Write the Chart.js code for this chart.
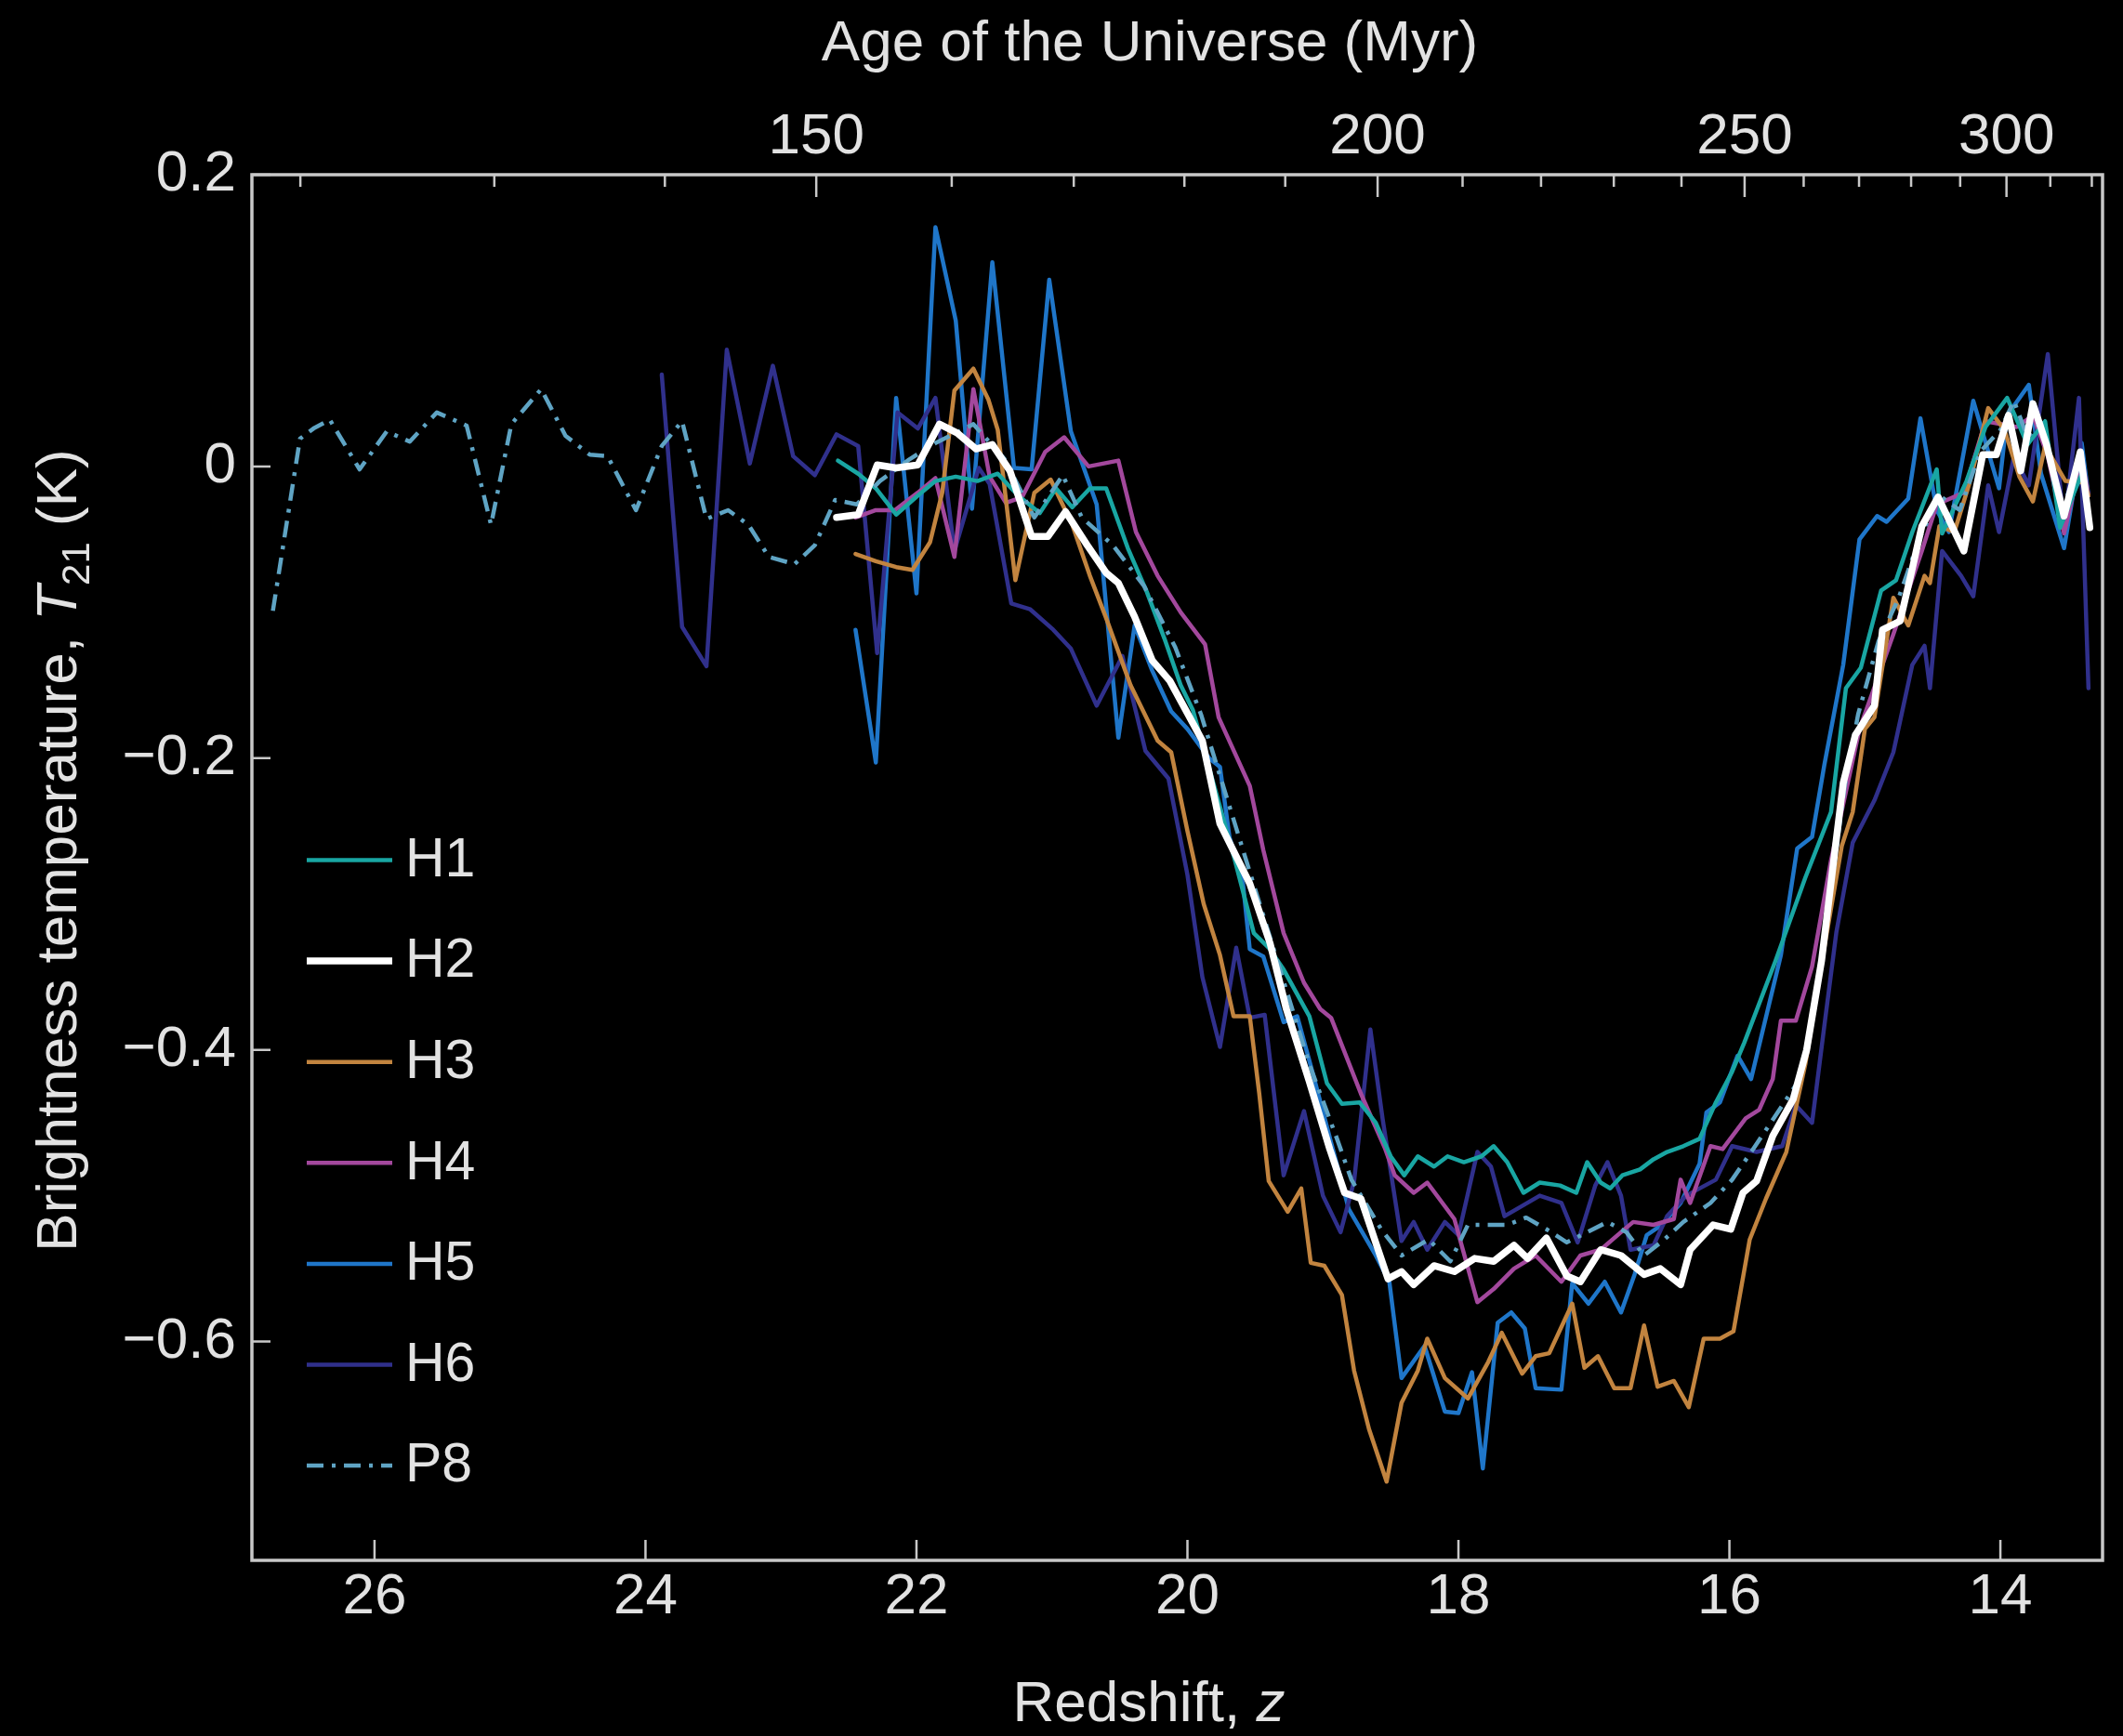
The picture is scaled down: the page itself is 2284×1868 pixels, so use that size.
<!DOCTYPE html>
<html lang="en">
<head>
<meta charset="UTF-8">
<title>21-cm absorption profiles</title>
<script src="https://cdn.jsdelivr.net/npm/chart.js"></script>
<style>
  html, body { margin: 0; padding: 0; background: #000; }
  #wrap { width: 2284px; height: 1868px; }
</style>
</head>
<body>
<div id="wrap"><canvas id="chart" width="2284" height="1868"></canvas></div>
<script>
// Redshift z and brightness temperature T21 (K) for each hardware case
const zH1 = [22.58, 22.43, 22.30, 22.15, 21.99, 21.86, 21.71, 21.55, 21.40, 21.25, 21.09, 20.97, 20.85, 20.72, 20.60, 20.44, 20.30, 20.17, 20.05, 19.96, 19.80, 19.65, 19.51, 19.40, 19.29, 19.10, 18.97, 18.86, 18.73, 18.61, 18.50, 18.40, 18.30, 18.18, 18.08, 17.96, 17.83, 17.74, 17.64, 17.52, 17.40, 17.25, 17.13, 17.05, 16.95, 16.88, 16.79, 16.66, 16.56, 16.46, 16.34, 16.22, 16.10, 15.98, 15.89, 15.66, 15.44, 15.25, 15.14, 15.03, 14.88, 14.77, 14.65, 14.47, 14.43, 14.25, 14.11, 13.95, 13.80, 13.67, 13.56, 13.40, 13.35];
const tH1 = [0.004, -0.005, -0.015, -0.033, -0.020, -0.010, -0.007, -0.010, -0.005, -0.020, -0.032, -0.015, -0.028, -0.015, -0.015, -0.056, -0.086, -0.118, -0.150, -0.167, -0.220, -0.270, -0.320, -0.330, -0.345, -0.377, -0.423, -0.437, -0.436, -0.450, -0.473, -0.486, -0.473, -0.480, -0.473, -0.477, -0.473, -0.466, -0.477, -0.498, -0.491, -0.493, -0.498, -0.477, -0.491, -0.495, -0.486, -0.482, -0.475, -0.470, -0.466, -0.461, -0.436, -0.415, -0.395, -0.339, -0.282, -0.237, -0.152, -0.138, -0.085, -0.078, -0.045, -0.002, -0.046, -0.010, 0.027, 0.047, 0.015, 0.031, -0.042, -0.005, -0.030];

const zH2 = [22.59, 22.43, 22.29, 22.15, 21.99, 21.83, 21.70, 21.56, 21.44, 21.31, 21.15, 21.03, 20.90, 20.74, 20.60, 20.51, 20.39, 20.26, 20.13, 19.89, 19.76, 19.54, 19.39, 19.27, 19.10, 18.95, 18.84, 18.72, 18.52, 18.42, 18.33, 18.18, 18.03, 17.88, 17.74, 17.59, 17.49, 17.35, 17.20, 17.10, 16.95, 16.80, 16.63, 16.51, 16.36, 16.29, 16.12, 15.99, 15.90, 15.80, 15.68, 15.53, 15.43, 15.32, 15.23, 15.16, 15.07, 14.93, 14.87, 14.74, 14.65, 14.58, 14.46, 14.27, 14.13, 14.03, 13.94, 13.85, 13.76, 13.66, 13.53, 13.41, 13.34];
const tH2 = [-0.035, -0.033, 0.001, -0.001, 0.001, 0.029, 0.023, 0.012, 0.015, -0.003, -0.048, -0.048, -0.031, -0.054, -0.073, -0.080, -0.103, -0.133, -0.147, -0.188, -0.245, -0.286, -0.327, -0.372, -0.422, -0.468, -0.498, -0.502, -0.557, -0.552, -0.561, -0.548, -0.552, -0.543, -0.545, -0.534, -0.543, -0.529, -0.555, -0.559, -0.537, -0.541, -0.554, -0.550, -0.561, -0.537, -0.520, -0.523, -0.498, -0.490, -0.459, -0.434, -0.400, -0.339, -0.270, -0.217, -0.184, -0.164, -0.112, -0.106, -0.070, -0.041, -0.021, -0.058, 0.008, 0.008, 0.035, -0.003, 0.043, 0.015, -0.034, 0.010, -0.042];

const zH3 = [22.45, 22.30, 22.15, 22.03, 21.90, 21.81, 21.72, 21.58, 21.47, 21.40, 21.27, 21.13, 21.01, 20.85, 20.72, 20.60, 20.42, 20.22, 20.12, 20.00, 19.88, 19.76, 19.66, 19.54, 19.47, 19.40, 19.26, 19.16, 19.09, 18.99, 18.86, 18.77, 18.66, 18.53, 18.42, 18.30, 18.23, 18.10, 17.93, 17.78, 17.68, 17.53, 17.43, 17.33, 17.16, 17.07, 16.97, 16.85, 16.73, 16.63, 16.53, 16.41, 16.30, 16.19, 16.07, 15.97, 15.85, 15.73, 15.58, 15.44, 15.30, 15.17, 15.09, 15.00, 14.93, 14.79, 14.68, 14.56, 14.52, 14.45, 14.34, 14.23, 14.09, 13.97, 13.86, 13.76, 13.67, 13.52, 13.38, 13.35];
const tH3 = [-0.060, -0.065, -0.069, -0.071, -0.052, -0.018, 0.052, 0.067, 0.046, 0.025, -0.078, -0.018, -0.009, -0.040, -0.075, -0.104, -0.150, -0.188, -0.196, -0.250, -0.300, -0.335, -0.377, -0.377, -0.430, -0.490, -0.511, -0.495, -0.546, -0.548, -0.568, -0.620, -0.660, -0.696, -0.642, -0.620, -0.598, -0.625, -0.639, -0.614, -0.594, -0.622, -0.610, -0.608, -0.574, -0.618, -0.610, -0.632, -0.632, -0.589, -0.631, -0.627, -0.645, -0.598, -0.598, -0.593, -0.530, -0.502, -0.470, -0.410, -0.330, -0.260, -0.237, -0.180, -0.172, -0.090, -0.109, -0.075, -0.080, -0.041, -0.045, -0.012, 0.040, 0.025, -0.007, -0.024, 0.014, -0.010, -0.011, -0.020];

const zH4 = [22.45, 22.30, 22.16, 21.99, 21.86, 21.72, 21.58, 21.46, 21.34, 21.22, 21.05, 20.91, 20.73, 20.51, 20.38, 20.22, 20.05, 19.87, 19.77, 19.54, 19.44, 19.29, 19.14, 19.02, 18.94, 18.72, 18.54, 18.47, 18.33, 18.23, 18.03, 17.86, 17.74, 17.59, 17.43, 17.24, 17.10, 16.95, 16.80, 16.71, 16.56, 16.41, 16.36, 16.29, 16.14, 16.05, 15.88, 15.78, 15.68, 15.62, 15.51, 15.39, 15.25, 15.04, 14.79, 14.58, 14.47, 14.27, 14.11, 13.88, 13.76, 13.65, 13.53, 13.40, 13.35];
const tH4 = [-0.035, -0.030, -0.030, -0.018, -0.008, -0.062, 0.053, -0.007, -0.025, -0.021, 0.010, 0.020, 0.000, 0.004, -0.045, -0.075, -0.100, -0.122, -0.172, -0.219, -0.263, -0.320, -0.354, -0.372, -0.378, -0.430, -0.468, -0.486, -0.498, -0.491, -0.516, -0.573, -0.564, -0.550, -0.541, -0.559, -0.541, -0.537, -0.525, -0.518, -0.520, -0.516, -0.489, -0.505, -0.466, -0.468, -0.447, -0.441, -0.420, -0.380, -0.380, -0.343, -0.270, -0.180, -0.115, -0.058, -0.026, -0.018, 0.031, 0.027, 0.035, 0.007, -0.046, 0.007, -0.020];

const zH5 = [22.45, 22.30, 22.15, 22.00, 21.86, 21.71, 21.59, 21.44, 21.28, 21.15, 21.02, 20.86, 20.67, 20.51, 20.39, 20.26, 20.12, 20.00, 19.84, 19.76, 19.69, 19.59, 19.54, 19.44, 19.29, 19.19, 19.09, 18.95, 18.81, 18.61, 18.51, 18.42, 18.25, 18.10, 18.00, 17.90, 17.82, 17.71, 17.61, 17.51, 17.43, 17.24, 17.16, 17.04, 16.92, 16.80, 16.70, 16.61, 16.50, 16.36, 16.22, 16.17, 16.07, 15.94, 15.84, 15.62, 15.50, 15.39, 15.30, 15.16, 15.04, 14.91, 14.84, 14.68, 14.59, 14.47, 14.38, 14.20, 14.01, 13.95, 13.79, 13.70, 13.53, 13.40, 13.35];
const tH5 = [-0.112, -0.203, 0.047, -0.087, 0.164, 0.100, -0.029, 0.140, -0.001, -0.002, 0.128, 0.024, -0.026, -0.186, -0.109, -0.140, -0.168, -0.180, -0.200, -0.206, -0.254, -0.286, -0.331, -0.336, -0.381, -0.377, -0.411, -0.460, -0.509, -0.541, -0.559, -0.625, -0.603, -0.648, -0.649, -0.621, -0.687, -0.587, -0.580, -0.591, -0.632, -0.633, -0.560, -0.574, -0.559, -0.580, -0.554, -0.527, -0.520, -0.505, -0.478, -0.443, -0.436, -0.404, -0.420, -0.335, -0.262, -0.254, -0.205, -0.136, -0.050, -0.034, -0.038, -0.022, 0.033, -0.030, -0.045, 0.045, -0.015, 0.035, 0.056, -0.005, -0.056, 0.016, -0.020];

const zH6 = [23.88, 23.73, 23.55, 23.40, 23.23, 23.06, 22.91, 22.75, 22.59, 22.43, 22.29, 22.14, 21.99, 21.86, 21.72, 21.54, 21.46, 21.30, 21.16, 20.99, 20.86, 20.67, 20.48, 20.31, 20.14, 20.00, 19.89, 19.76, 19.64, 19.54, 19.43, 19.29, 19.14, 19.00, 18.87, 18.77, 18.65, 18.56, 18.42, 18.33, 18.23, 18.10, 18.00, 17.86, 17.76, 17.66, 17.53, 17.40, 17.24, 17.12, 16.99, 16.90, 16.80, 16.73, 16.56, 16.46, 16.32, 16.10, 15.98, 15.80, 15.61, 15.51, 15.39, 15.30, 15.21, 15.09, 14.93, 14.79, 14.65, 14.56, 14.52, 14.43, 14.29, 14.20, 14.09, 14.01, 13.90, 13.79, 13.65, 13.53, 13.42, 13.35];
const tH6 = [0.063, -0.110, -0.137, 0.080, 0.002, 0.069, 0.007, -0.006, 0.022, 0.014, -0.128, 0.037, 0.026, 0.047, -0.058, -0.001, -0.012, -0.094, -0.098, -0.112, -0.125, -0.164, -0.130, -0.195, -0.214, -0.280, -0.350, -0.398, -0.330, -0.378, -0.376, -0.486, -0.442, -0.500, -0.525, -0.490, -0.386, -0.447, -0.531, -0.518, -0.537, -0.518, -0.527, -0.470, -0.480, -0.514, -0.507, -0.500, -0.505, -0.532, -0.493, -0.477, -0.500, -0.537, -0.534, -0.514, -0.500, -0.489, -0.466, -0.470, -0.466, -0.438, -0.450, -0.384, -0.319, -0.258, -0.229, -0.196, -0.136, -0.123, -0.152, -0.058, -0.075, -0.089, -0.013, -0.045, 0.007, -0.013, 0.077, -0.042, 0.047, -0.152];

const zP8 = [26.75, 26.55, 26.45, 26.33, 26.11, 25.91, 25.74, 25.54, 25.32, 25.14, 24.99, 24.77, 24.59, 24.41, 24.28, 24.07, 23.88, 23.73, 23.55, 23.39, 23.24, 23.09, 22.90, 22.75, 22.60, 22.44, 22.27, 22.05, 21.86, 21.58, 21.35, 21.13, 20.92, 20.78, 20.55, 20.32, 20.09, 19.90, 19.70, 19.50, 19.30, 19.10, 18.90, 18.79, 18.57, 18.42, 18.22, 18.06, 17.93, 17.79, 17.64, 17.50, 17.35, 17.20, 17.05, 16.90, 16.76, 16.63, 16.48, 16.34, 16.14, 15.98, 15.81, 15.63, 15.48, 15.35, 15.25, 15.15, 15.05, 14.90, 14.75, 14.60, 14.45, 14.30, 14.15, 14.00, 13.90, 13.80, 13.70, 13.55, 13.42, 13.35];
const tP8 = [-0.099, 0.019, 0.026, 0.032, -0.002, 0.024, 0.017, 0.037, 0.028, -0.040, 0.029, 0.053, 0.021, 0.008, 0.007, -0.030, 0.014, 0.031, -0.036, -0.030, -0.040, -0.062, -0.067, -0.054, -0.023, -0.026, -0.010, 0.005, 0.016, 0.029, 0.005, -0.035, -0.006, -0.035, -0.054, -0.082, -0.124, -0.170, -0.230, -0.290, -0.350, -0.410, -0.460, -0.489, -0.523, -0.541, -0.530, -0.545, -0.520, -0.520, -0.520, -0.515, -0.523, -0.532, -0.525, -0.518, -0.525, -0.541, -0.530, -0.518, -0.505, -0.489, -0.466, -0.441, -0.420, -0.360, -0.290, -0.220, -0.170, -0.120, -0.090, -0.050, -0.020, -0.030, 0.010, 0.025, 0.045, 0.020, 0.030, -0.030, 0.000, -0.020];

// axis ticks
const zTicks = [26, 24, 22, 20, 18, 16, 14];
const tTicks = [0.2, 0, -0.2, -0.4, -0.6];
const ageMajor = [150, 200, 250, 300];
const ageMinor = [120, 130, 140, 160, 170, 180, 190, 210, 220, 230, 240, 260, 270, 280, 290, 310, 320];

// cosmic age (Myr) -> redshift, matter-dominated approximation
function zFromAge(t) { return Math.pow(17350 / t, 2 / 3) - 1; }

const FONT = "'Liberation Sans', Arial, Helvetica, sans-serif";
const TEXT = '#e2e2e2';
const AXIS = '#c8c8c8';
const Z_MIN = 13.246, Z_MAX = 26.905;

function series(zs, ts) { return zs.map((z, i) => ({ x: z, y: ts[i] })); }

const lineStyle = { pointRadius: 0, tension: 0, fill: false, borderJoinStyle: 'round', borderCapStyle: 'round' };

const datasets = [
  { label: 'H1', data: series(zH1, tH1), borderColor: '#19a6a3', borderWidth: 4.5, order: 2 },
  { label: 'H2', data: series(zH2, tH2), borderColor: '#ffffff', borderWidth: 7.5, order: 0 },
  { label: 'H3', data: series(zH3, tH3), borderColor: '#c2843f', borderWidth: 4.5, order: 3 },
  { label: 'H4', data: series(zH4, tH4), borderColor: '#a3489d', borderWidth: 4.5, order: 4 },
  { label: 'H5', data: series(zH5, tH5), borderColor: '#1f76c9', borderWidth: 4.5, order: 6 },
  { label: 'H6', data: series(zH6, tH6), borderColor: '#30308c', borderWidth: 4.5, order: 5 },
  { label: 'P8', data: series(zP8, tP8), borderColor: '#5fa4c4', borderWidth: 4.5, borderDash: [18, 9, 4, 9], borderCapStyle: 'butt', order: 1 }
].map(d => Object.assign({}, lineStyle, d));

// draw a run of differently styled text pieces centred on (0, 0)
function drawRuns(ctx, runs) {
  let total = 0;
  runs.forEach(r => { ctx.font = r.font; r.w = ctx.measureText(r.text).width; total += r.w; });
  let x = -total / 2;
  runs.forEach(r => { ctx.font = r.font; ctx.fillText(r.text, x, r.dy || 0); x += r.w; });
}

const framePlugin = {
  id: 'frame',
  afterDatasetsDraw(chart) {
    const { ctx, chartArea: a } = chart;
    const sx = chart.scales.x, sy = chart.scales.y, st = chart.scales.x2;
    ctx.save();
    ctx.strokeStyle = AXIS;
    ctx.lineWidth = 2.5;
    ctx.beginPath();
    zTicks.forEach(z => { const px = sx.getPixelForValue(z); ctx.moveTo(px, a.bottom); ctx.lineTo(px, a.bottom - 22); });
    tTicks.forEach(t => { const py = sy.getPixelForValue(t); ctx.moveTo(a.left, py); ctx.lineTo(a.left + 20, py); });
    ageMajor.forEach(t => { const px = st.getPixelForValue(zFromAge(t)); ctx.moveTo(px, a.top); ctx.lineTo(px, a.top + 24); });
    ageMinor.forEach(t => { const px = st.getPixelForValue(zFromAge(t)); ctx.moveTo(px, a.top); ctx.lineTo(px, a.top + 13); });
    ctx.stroke();
    ctx.lineWidth = 3.5;
    ctx.strokeRect(a.left, a.top, a.right - a.left, a.bottom - a.top);
    ctx.restore();
  },
  afterDraw(chart) {
    const { ctx } = chart;
    ctx.save();
    ctx.fillStyle = TEXT;
    ctx.textBaseline = 'alphabetic';
    ctx.textAlign = 'left';

    // axis titles
    ctx.save();
    ctx.translate(1237, 65);
    drawRuns(ctx, [{ text: 'Age of the Universe (Myr)', font: `62px ${FONT}` }]);
    ctx.restore();

    ctx.save();
    ctx.translate(1236, 1852);
    drawRuns(ctx, [
      { text: 'Redshift, ', font: `62px ${FONT}` },
      { text: 'z', font: `italic 62px ${FONT}` }
    ]);
    ctx.restore();

    ctx.save();
    ctx.translate(82, 915);
    ctx.rotate(-Math.PI / 2);
    drawRuns(ctx, [
      { text: 'Brightness temperature, ', font: `62px ${FONT}` },
      { text: 'T', font: `italic 62px ${FONT}` },
      { text: '21', font: `42px ${FONT}`, dy: 14 },
      { text: ' (K)', font: `62px ${FONT}` }
    ]);
    ctx.restore();

    // legend
    ctx.textBaseline = 'middle';
    ctx.font = `59px ${FONT}`;
    chart.data.datasets.forEach((ds, i) => {
      const y = 925.5 + i * 108.6;
      ctx.strokeStyle = ds.borderColor;
      ctx.lineWidth = ds.borderWidth;
      ctx.lineCap = 'butt';
      ctx.setLineDash(ds.borderDash || []);
      ctx.beginPath();
      ctx.moveTo(330, y);
      ctx.lineTo(422, y);
      ctx.stroke();
      ctx.setLineDash([]);
      ctx.fillText(ds.label, 436, y + 1);
    });
    ctx.restore();
  }
};

const tickFont = { family: FONT, size: 62 };

new Chart(document.getElementById('chart'), {
  type: 'line',
  data: { datasets },
  options: {
    responsive: false,
    animation: false,
    devicePixelRatio: 1,
    layout: { padding: { left: 0, right: 22, top: 0, bottom: 0 } },
    plugins: { legend: { display: false }, tooltip: { enabled: false } },
    scales: {
      x: {
        type: 'linear', position: 'bottom', min: Z_MIN, max: Z_MAX, reverse: true,
        grid: { display: false, drawTicks: false }, border: { display: false },
        afterBuildTicks: s => { s.ticks = zTicks.map(v => ({ value: v })); },
        afterFit: s => { s.height = 189; },
        ticks: { color: TEXT, font: tickFont, padding: 3, maxRotation: 0, autoSkip: false, callback: v => String(v) }
      },
      x2: {
        type: 'linear', position: 'top', min: Z_MIN, max: Z_MAX, reverse: true,
        grid: { display: false, drawTicks: false }, border: { display: false },
        afterBuildTicks: s => { s.ticks = ageMajor.map(a => ({ value: zFromAge(a) })); },
        afterFit: s => { s.height = 188; },
        ticks: { color: TEXT, font: tickFont, padding: 3, maxRotation: 0, autoSkip: false, callback: (v, i) => String(ageMajor[i]) }
      },
      y: {
        type: 'linear', position: 'left', min: -0.75, max: 0.2,
        grid: { display: false, drawTicks: false }, border: { display: false },
        afterBuildTicks: s => { s.ticks = tTicks.map(v => ({ value: v })); },
        afterFit: s => { s.width = 271; },
        ticks: {
          color: TEXT, font: tickFont, padding: 17, autoSkip: false,
          callback: v => v === 0 ? '0' : (v < 0 ? '\u2212' : '') + Math.abs(v).toFixed(1)
        }
      }
    }
  },
  plugins: [framePlugin]
});
</script>
</body>
</html>
